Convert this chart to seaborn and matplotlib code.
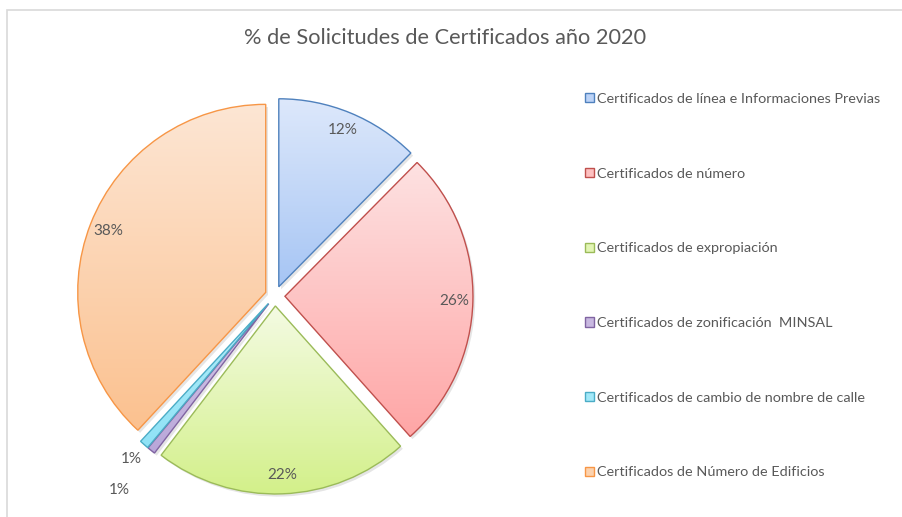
import numpy as np
import matplotlib
matplotlib.use("Agg")
import matplotlib.pyplot as plt
import seaborn as sns
from matplotlib.colors import LinearSegmentedColormap
from matplotlib.patches import Patch, Rectangle, Wedge

# data
categories = [
    "Certificados de línea e Informaciones Previas",
    "Certificados de número",
    "Certificados de expropiación",
    "Certificados de zonificación  MINSAL",
    "Certificados de cambio de nombre de calle",
    "Certificados de Número de Edificios",
]
shares = [12.4, 26.0, 22.0, 0.7, 0.8, 38.1]
title = "% de Solicitudes de Certificados año 2020"

# excel-like styling: edge colour, gradient top, gradient bottom
edge_colors = ["#4f81bd", "#c0504d", "#9bbb59", "#8064a2", "#4bacc6", "#f79646"]
grad_top = ["#dde8fb", "#fde2e2", "#f4fbe3", "#d8cdea", "#b5eefa", "#fde6d4"]
grad_bot = ["#a6c5f4", "#ffa6a6", "#d3f08a", "#b9a6d9", "#8fe2f6", "#fbc18f"]
legend_fill = ["#bcd3f7", "#fdc0c0", "#e2f5b4", "#c8b8e0", "#a2e8f8", "#fcd2ae"]

sns.set_theme(style="white")
plt.rcParams["font.family"] = ["Lato", "DejaVu Sans"]
text_color = "#595959"

W, H = 902, 517
fig = plt.figure(figsize=(W / 100, H / 100), dpi=100)
fig.patch.set_facecolor("white")

# pie centre (px) and radius (px)
cx, cy, rpx = 275, 296, 188
half = 1.4 * rpx
ax = fig.add_axes([(cx - half) / W, (H - cy - half) / H, 2 * half / W, 2 * half / H])
ax.set_axis_off()

wedges, _ = ax.pie(
    shares,
    startangle=90,
    counterclock=False,
    explode=[0.053] * len(shares),
    wedgeprops=dict(linewidth=1.0),
)

grad = np.linspace(0, 1, 256).reshape(-1, 1)
for w, ec, top, bot in zip(wedges, edge_colors, grad_top, grad_bot):
    w.set_edgecolor(ec)
    w.set_facecolor("none")
    w.set_zorder(3)
    bb = w.get_path().get_extents()
    cmap = LinearSegmentedColormap.from_list("g", [bot, top])
    im = ax.imshow(grad, cmap=cmap, extent=(bb.x0, bb.x1, bb.y0, bb.y1),
                   origin="lower", aspect="auto", zorder=2, interpolation="bicubic")
    im.set_clip_path(w)
    # soft shadow
    sh = Wedge((w.center[0] + 0.012, w.center[1] - 0.014), w.r, w.theta1, w.theta2,
               facecolor="#000000", alpha=0.10, edgecolor="none", zorder=1)
    ax.add_patch(sh)

ax.set_xlim(-1.4, 1.4)
ax.set_ylim(-1.4, 1.4)
ax.set_aspect("equal")

# percentage labels
label_dist = [0.9, 0.9, 0.9, 1.27, 1.10, 0.9]
for w, v, d in zip(wedges, shares, label_dist):
    ang = np.deg2rad((w.theta1 + w.theta2) / 2)
    x = w.center[0] + d * np.cos(ang)
    y = w.center[1] + d * np.sin(ang)
    ax.text(x, y, f"{round(v):d}%", ha="center", va="center",
            fontsize=11, color=text_color, zorder=5)

fig.text(445 / W, 1 - 38 / H, title, ha="center", va="center",
         fontsize=15.7, color=text_color)

handles = [Patch(facecolor=f, edgecolor=e, linewidth=1.0)
           for f, e in zip(legend_fill, edge_colors)]
fig.legend(handles, categories, loc="upper left",
           bbox_to_anchor=(572 / W, 1 - 80 / H), frameon=False,
           fontsize=10.4, labelcolor=text_color, labelspacing=4.34,
           handlelength=0.6, handleheight=0.6, handletextpad=0.2)

# chart area border (cropped at right/bottom)
fig.patches.append(Rectangle((7 / W, -0.1), 1.2, 1.1 - 10 / H,
                             transform=fig.transFigure, fill=False,
                             edgecolor="#d9d9d9", linewidth=1.2))

fig.savefig("out.png", dpi=100)
